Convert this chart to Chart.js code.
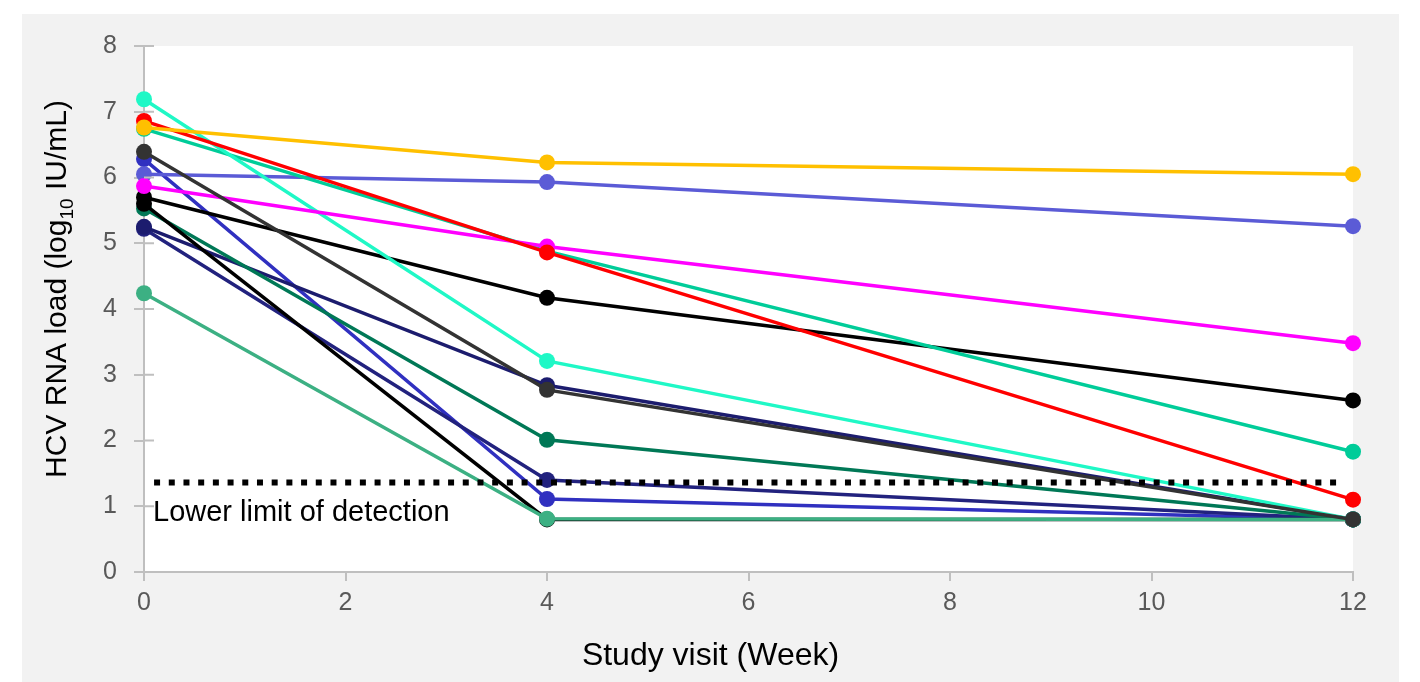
<!DOCTYPE html>
<html>
<head>
<meta charset="utf-8">
<script src="https://cdn.jsdelivr.net/npm/chart.js@4"></script>
<style>
  body { margin: 0; background: #fff; }
  #wrap { position: absolute; left: 22px; top: 14px; width: 1377px; height: 668px; background: #f2f2f2; }
</style>
</head>
<body>
<div id="wrap"><canvas id="hcv" width="1377" height="668"></canvas></div>
<script>
// study visits (weeks)
const weeks = [0, 4, 12];

// HCV RNA load per patient, log10 IU/mL
const ptCyan    = [7.19, 3.21, 0.80];
const ptRed     = [6.86, 4.86, 1.10];
const ptOrange  = [6.76, 6.23, 6.05];
const ptTeal    = [6.74, 4.88, 1.83];
const ptDkGray  = [6.39, 2.77, 0.80];
const ptBlue    = [6.28, 1.11, 0.80];
const ptSlate   = [6.05, 5.93, 5.26];
const ptMagenta = [5.87, 4.95, 3.48];
const ptBlack   = [5.70, 4.17, 2.61];
const ptBlack2  = [5.60, 0.80, 0.80];
const ptDkGreen = [5.53, 2.01, 0.80];
const ptNavy    = [5.25, 2.84, 0.80];
const ptNavy2   = [5.22, 1.40, 0.80];
const ptGreen   = [4.24, 0.81, 0.80];

// lower limit of detection
const lodValue = 1.36;
const lodSpan = [0.1, 11.85];

const yTicks = [0, 1, 2, 3, 4, 5, 6, 7, 8];
const xTicks = [0, 2, 4, 6, 8, 10, 12];

const FONT = "'Liberation Sans', Arial, sans-serif";

// first in list is drawn on top
const patients = [
  { v: ptDkGray,  c: "#333333" },
  { v: ptGreen,   c: "#3cb083" },
  { v: ptOrange,  c: "#ffc000" },
  { v: ptRed,     c: "#ff0000" },
  { v: ptMagenta, c: "#ff00ff" },
  { v: ptCyan,    c: "#1ff8c6" },
  { v: ptTeal,    c: "#00cc99" },
  { v: ptSlate,   c: "#5b5bd6" },
  { v: ptBlack,   c: "#000000" },
  { v: ptBlack2,  c: "#000000" },
  { v: ptDkGreen, c: "#007856" },
  { v: ptNavy,    c: "#1c1c6e" },
  { v: ptNavy2,   c: "#22227e" },
  { v: ptBlue,    c: "#3030c0" }
];

const datasets = [{
  data: lodSpan.map(x => ({ x: x, y: lodValue })),
  borderColor: "#000",
  borderWidth: 6,
  borderDash: [6, 8.7],
  pointRadius: 0
}];
patients.forEach(p => {
  datasets.push({
    data: weeks.map((w, i) => ({ x: w, y: p.v[i] })),
    borderColor: p.c,
    backgroundColor: p.c,
    pointBackgroundColor: p.c,
    borderWidth: 3.5,
    pointRadius: 8,
    pointBorderWidth: 0,
    clip: false
  });
});

const decor = {
  id: "decor",
  beforeDraw(chart) {
    const a = chart.chartArea, ctx = chart.ctx;
    ctx.save();
    ctx.fillStyle = "#fff";
    ctx.fillRect(a.left, a.top, a.right - a.left, a.bottom - a.top);
    ctx.restore();
  },
  afterDatasetsDraw(chart) {
    const ctx = chart.ctx, a = chart.chartArea;
    const xs = chart.scales.x, ys = chart.scales.y;
    ctx.save();
    // inner half of the y tick marks
    ctx.strokeStyle = "#bfbfbf";
    ctx.lineWidth = 2;
    yTicks.slice(1).forEach(t => {
      const py = ys.getPixelForValue(t);
      ctx.beginPath();
      ctx.moveTo(a.left, py);
      ctx.lineTo(a.left + 10, py);
      ctx.stroke();
    });
    // LOD label
    ctx.fillStyle = "#000";
    ctx.font = "29px " + FONT;
    ctx.textBaseline = "alphabetic";
    ctx.fillText("Lower limit of detection", xs.getPixelForValue(0) + 9, ys.getPixelForValue(lodValue) + 38);
    // x title
    ctx.font = "32px " + FONT;
    ctx.textAlign = "center";
    ctx.fillText("Study visit (Week)", chart.width / 2, 651);
    // y title with subscript
    const parts = [["HCV RNA load (log", 30, 0], ["10", 19, 7], [" IU/mL)", 30, 0]];
    let total = 0;
    parts.forEach(p => { ctx.font = p[1] + "px " + FONT; p.push(ctx.measureText(p[0]).width); total += p[3]; });
    ctx.translate(44, 275);
    ctx.rotate(-Math.PI / 2);
    ctx.textAlign = "left";
    let x = -total / 2;
    parts.forEach(p => {
      ctx.font = p[1] + "px " + FONT;
      ctx.fillText(p[0], x, p[2]);
      x += p[3];
    });
    ctx.restore();
  }
};

new Chart(document.getElementById("hcv"), {
  type: "line",
  data: { datasets: datasets },
  options: {
    responsive: false,
    animation: false,
    events: [],
    layout: { padding: { top: 32, right: 46, left: 0, bottom: 0 } },
    plugins: { legend: { display: false }, tooltip: { enabled: false } },
    scales: {
      x: {
        type: "linear",
        min: 0,
        max: 12,
        afterFit: s => { s.height = 110; },
        afterBuildTicks: s => { s.ticks = xTicks.map(v => ({ value: v })); },
        border: { color: "#bfbfbf", width: 2 },
        grid: { drawOnChartArea: false, color: "#bfbfbf", lineWidth: 2, tickLength: 9 },
        ticks: { color: "#595959", padding: 7, font: { family: FONT, size: 25 } }
      },
      y: {
        min: 0,
        max: 8,
        afterFit: s => { s.width = 122; },
        afterBuildTicks: s => { s.ticks = yTicks.map(v => ({ value: v })); },
        border: { color: "#bfbfbf", width: 2 },
        grid: { drawOnChartArea: false, color: "#bfbfbf", lineWidth: 2, tickLength: 10 },
        ticks: { color: "#595959", padding: 17, font: { family: FONT, size: 25 } }
      }
    }
  },
  plugins: [decor]
});
</script>
</body>
</html>
